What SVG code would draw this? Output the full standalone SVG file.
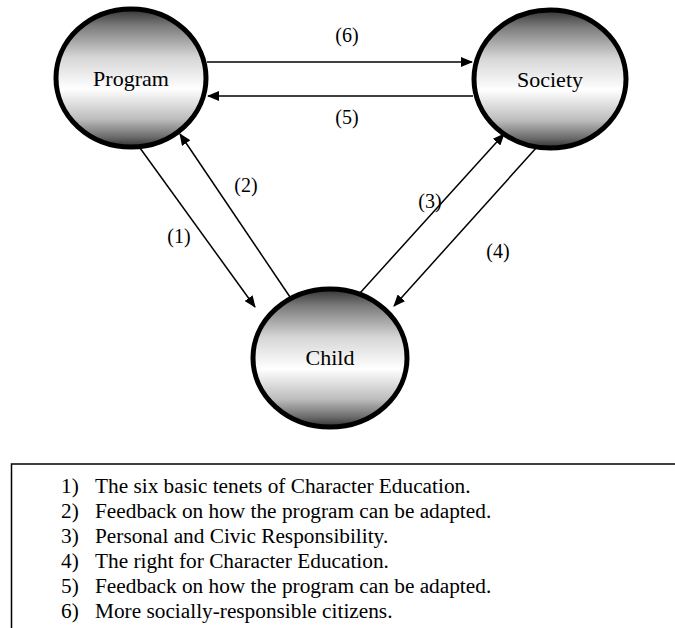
<svg xmlns="http://www.w3.org/2000/svg" width="675" height="628" viewBox="0 0 675 628">
<style>
.node{stroke:#000;stroke-width:5;fill:url(#g)}
.lbl{font-family:"Liberation Serif","Times New Roman",serif;font-size:22px;fill:#000}
.num{font-family:"Liberation Serif","Times New Roman",serif;font-size:20px;fill:#000}
.leg{font-family:"Liberation Serif","Times New Roman",serif;font-size:21.3px;fill:#000}
.c{stroke:#000;stroke-width:1.5;fill:none}
</style>
<defs>
<linearGradient id="g" x1="0" y1="0" x2="0" y2="1">
<stop offset="0" stop-color="#333333"/>
<stop offset="0.12" stop-color="#7a7a7a"/>
<stop offset="0.35" stop-color="#d6d6d6"/>
<stop offset="0.58" stop-color="#ffffff"/>
<stop offset="0.8" stop-color="#bcbcbc"/>
<stop offset="0.93" stop-color="#6a6a6a"/>
<stop offset="1" stop-color="#2e2e2e"/>
</linearGradient>
<marker id="a" markerWidth="12" markerHeight="10" refX="11" refY="5" orient="auto" markerUnits="userSpaceOnUse">
<path d="M0,0 L12,5 L0,10 z" fill="#000"/>
</marker>
</defs>
<g id="connectors">
<line class="c" x1="207" y1="62" x2="472" y2="62" marker-end="url(#a)"/>
<line class="c" x1="473" y1="96" x2="208" y2="96" marker-end="url(#a)"/>
<line class="c" x1="140" y1="148" x2="255" y2="307" marker-end="url(#a)"/>
<line class="c" x1="290" y1="297" x2="180" y2="134" marker-end="url(#a)"/>
<line class="c" x1="360" y1="293" x2="504" y2="134" marker-end="url(#a)"/>
<line class="c" x1="537" y1="147" x2="394" y2="306" marker-end="url(#a)"/>
<text class="num" x="347" y="42" text-anchor="middle">(6)</text>
<text class="num" x="347" y="124" text-anchor="middle">(5)</text>
<text class="num" x="179" y="243" text-anchor="middle">(1)</text>
<text class="num" x="246" y="192" text-anchor="middle">(2)</text>
<text class="num" x="430" y="208" text-anchor="middle">(3)</text>
<text class="num" x="498" y="258" text-anchor="middle">(4)</text>
</g>
<g id="program">
<ellipse class="node" cx="131" cy="78" rx="75" ry="69"/>
<text class="lbl" x="131" y="86" text-anchor="middle">Program</text>
</g>
<g id="society">
<ellipse class="node" cx="550" cy="79" rx="76" ry="69"/>
<text class="lbl" x="550" y="87" text-anchor="middle">Society</text>
</g>
<g id="child">
<ellipse class="node" cx="330" cy="358" rx="77" ry="69"/>
<text class="lbl" x="330" y="365" text-anchor="middle">Child</text>
</g>
<g id="legend">
<path d="M675,464 H11.5 V628" stroke="#000" stroke-width="1.5" fill="none"/>
<text class="leg" x="61" y="493">1)</text><text class="leg" x="95" y="493">The six basic tenets of Character Education.</text>
<text class="leg" x="61" y="518">2)</text><text class="leg" x="95" y="518">Feedback on how the program can be adapted.</text>
<text class="leg" x="61" y="543">3)</text><text class="leg" x="95" y="543">Personal and Civic Responsibility.</text>
<text class="leg" x="61" y="568">4)</text><text class="leg" x="95" y="568">The right for Character Education.</text>
<text class="leg" x="61" y="593">5)</text><text class="leg" x="95" y="593">Feedback on how the program can be adapted.</text>
<text class="leg" x="61" y="618">6)</text><text class="leg" x="95" y="618">More socially-responsible citizens.</text>
</g>
</svg>
